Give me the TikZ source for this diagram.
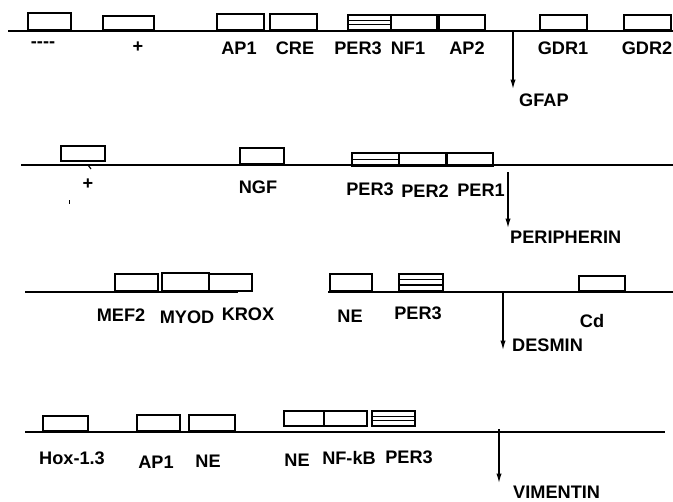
\documentclass[tikz,border=0pt]{standalone}
\usepackage{fontspec}
\setmainfont{Liberation Sans}
\usetikzlibrary{arrows.meta,calc}

\tikzset{
  site/.style={draw, line width=1.3pt, inner sep=0pt, anchor=south west,
    minimum height=15*0.03cm},
  wd/.style={minimum width=#1*0.03cm},
  ht/.style={minimum height=#1*0.03cm},
  per/.style={site, path picture={
    \draw[line width=1pt] ($(path picture bounding box.north west)!0.33!(path picture bounding box.south west)$)
      -- ($(path picture bounding box.north east)!0.33!(path picture bounding box.south east)$);
    \draw[line width=1pt] ($(path picture bounding box.north west)!0.63!(path picture bounding box.south west)$)
      -- ($(path picture bounding box.north east)!0.63!(path picture bounding box.south east)$);}},
  perone/.style={site, path picture={
    \draw[line width=1pt] ($(path picture bounding box.north west)!0.45!(path picture bounding box.south west)$)
      -- ($(path picture bounding box.north east)!0.45!(path picture bounding box.south east)$);}},
  lbl/.style={font=\bfseries\fontsize{15.5}{18}\selectfont, inner sep=0pt},
  dna/.style={line width=1.3pt},
  expr/.style={-{Latex[length=8pt,width=4.5pt]}, line width=1.1pt},
}

\begin{document}
\begin{tikzpicture}[x=0.03cm, y=-0.03cm]
\useasboundingbox (0,0) rectangle (673,501);

% ---------- GFAP ----------
\begin{scope}[shift={(0,31)}]
  \coordinate (g-l) at (8,0);
  \coordinate (g-r) at (673,0);
  \draw[dna] (g-l) -- (g-r);
  \node[site, wd=43, ht=17] (g-neg) at (27,0) {};
  \node[site, wd=51, ht=14] (g-pos) at (102,0) {};
  \node[site, wd=47, ht=16] (g-ap1) at (216,0) {};
  \node[site, wd=47, ht=16] (g-cre) at (269,0) {};
  \node[per, wd=43] (g-per3) at (347,0) {};
  \node[site, wd=46] (g-nf1) at (390,0) {};
  \node[site, wd=46] (g-ap2) at (438,0) {};
  \node[site, wd=47] (g-gdr1) at (539,0) {};
  \node[site, wd=47] (g-gdr2) at (623,0) {};
  \node[lbl] (g-neg-t) at (43,14) {-{}-{}-{}-};
  \node[lbl] (g-pos-t) at (138,16) {+};
  \node[lbl] (g-ap1-t) at (239,17) {AP1};
  \node[lbl] (g-cre-t) at (295,17) {CRE};
  \node[lbl] (g-per3-t) at (358,17) {PER3};
  \node[lbl] (g-nf1-t) at (408,17) {NF1};
  \node[lbl] (g-ap2-t) at (467,17) {AP2};
  \node[lbl] (g-gdr1-t) at (563,17) {GDR1};
  \node[lbl] (g-gdr2-t) at (647,17) {GDR2};
  \coordinate (g-tss) at (513,0);
  \coordinate (g-end) at (513,58);
  \draw[expr] (g-tss) -- (g-end);
  \node[lbl, anchor=west] (gfap) at (519,69) {GFAP};
\end{scope}

% ---------- PERIPHERIN ----------
\begin{scope}[shift={(0,165)}]
  \coordinate (p-l) at (21,0);
  \coordinate (p-r) at (673,0);
  \draw[dna] (p-l) -- (p-r);
  \node[site, wd=44] (p-pos) at (60,-3) {};
  \node[site, wd=44, ht=16] (p-ngf) at (239,0) {};
  \node[perone, wd=47, ht=13] (p-per3) at (351,2) {};
  \node[site, wd=47, ht=13] (p-per2) at (398,2) {};
  \node[site, wd=46, ht=13] (p-per1) at (446,2) {};
  \coordinate (p-tick-a) at (88,0);
  \coordinate (p-tick-b) at (91,4);
  \draw[line width=1pt] (p-tick-a) -- (p-tick-b);
  \coordinate (p-dot-a) at (69,35);
  \coordinate (p-dot-b) at (69,39);
  \draw[line width=0.8pt] (p-dot-a) -- (p-dot-b);
  \node[lbl] (p-pos-t) at (88,19) {+};
  \node[lbl] (p-ngf-t) at (258,22) {NGF};
  \node[lbl] (p-per3-t) at (370,24) {PER3};
  \node[lbl] (p-per2-t) at (425,26) {PER2};
  \node[lbl] (p-per1-t) at (481,25) {PER1};
  \coordinate (p-tss) at (508,7);
  \coordinate (p-end) at (508,63);
  \draw[expr] (p-tss) -- (p-end);
  \node[lbl, anchor=west] (peripherin) at (510,72) {PERIPHERIN};
\end{scope}

% ---------- DESMIN ----------
\begin{scope}[shift={(0,292)}]
  \coordinate (d-l) at (25,0);
  \coordinate (d-m) at (238,0);
  \coordinate (d-n) at (328,0);
  \coordinate (d-r) at (673,0);
  \draw[dna] (d-l) -- (d-m);
  \draw[dna] (d-n) -- (d-r);
  \node[site, wd=43, ht=17] (d-mef2) at (114,0) {};
  \node[site, wd=47, ht=18] (d-myod) at (161,0) {};
  \node[site, wd=43, ht=17] (d-krox) at (208,0) {};
  \node[site, wd=42, ht=17] (d-ne) at (329,0) {};
  \node[per, wd=44, ht=17] (d-per3) at (398,0) {};
  \node[site, wd=46] (d-cd) at (578,0) {};
  \node[lbl] (d-mef2-t) at (121,23) {MEF2};
  \node[lbl] (d-myod-t) at (187,25) {MYOD};
  \node[lbl] (d-krox-t) at (248,22) {KROX};
  \node[lbl] (d-ne-t) at (350,24) {NE};
  \node[lbl] (d-per3-t) at (418,21) {PER3};
  \node[lbl] (d-cd-t) at (592,29) {Cd};
  \coordinate (d-tss) at (503,0);
  \coordinate (d-end) at (503,58);
  \draw[expr] (d-tss) -- (d-end);
  \node[lbl, anchor=west] (desmin) at (512,53) {DESMIN};
\end{scope}

% ---------- VIMENTIN ----------
\begin{scope}[shift={(0,432)}]
  \coordinate (v-l) at (25,0);
  \coordinate (v-r) at (665,0);
  \draw[dna] (v-l) -- (v-r);
  \node[site, wd=45] (v-hox) at (42,0) {};
  \node[site, wd=43, ht=16] (v-ap1) at (136,0) {};
  \node[site, wd=46, ht=16] (v-ne) at (188,0) {};
  \node[site, wd=40] (v-ne2) at (283,-5) {};
  \node[site, wd=43] (v-nfkb) at (323,-5) {};
  \node[per, wd=43] (v-per3) at (371,-5) {};
  \node[lbl] (v-hox-t) at (72,26) {Hox-1.3};
  \node[lbl] (v-ap1-t) at (156,30) {AP1};
  \node[lbl] (v-ne-t) at (208,29) {NE};
  \node[lbl] (v-ne2-t) at (297,28) {NE};
  \node[lbl] (v-nfkb-t) at (349,26) {NF-kB};
  \node[lbl] (v-per3-t) at (409,25) {PER3};
  \coordinate (v-tss) at (499,-3);
  \coordinate (v-end) at (499,51);
  \draw[expr] (v-tss) -- (v-end);
  \node[lbl, anchor=west] (vimentin) at (513,60) {VIMENTIN};
\end{scope}

\end{tikzpicture}
\end{document}
